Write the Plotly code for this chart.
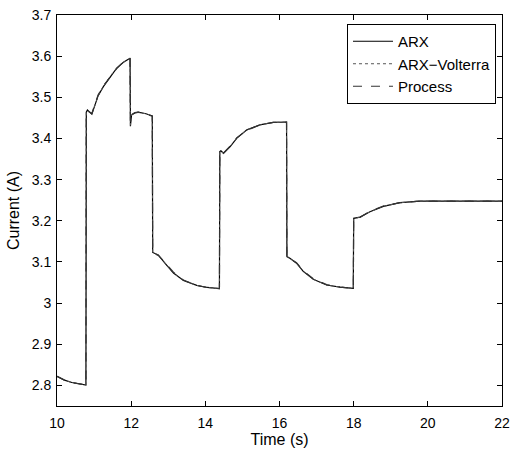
import plotly.graph_objects as go

time_s = [10.0, 10.2, 10.4, 10.6, 10.78,
          10.79, 10.82, 10.94, 11.02, 11.11, 11.25, 11.43, 11.61, 11.79, 11.97,
          11.98, 12.0, 12.01, 12.1, 12.19, 12.4, 12.57,
          12.58, 12.73, 12.91, 13.14, 13.41, 13.77, 14.05, 14.38,
          14.39, 14.42, 14.49, 14.67, 14.85, 15.12, 15.47, 15.83, 16.19,
          16.2, 16.28, 16.46, 16.64, 16.91, 17.27, 17.63, 17.99,
          18.0, 18.17, 18.44, 18.8, 19.25, 19.79, 20.5, 21.2, 22.0]

arx = [2.822, 2.813, 2.807, 2.803, 2.801,
       3.464, 3.469, 3.459, 3.481, 3.504, 3.526, 3.550, 3.571, 3.585, 3.595,
       3.430, 3.450, 3.457, 3.462, 3.464, 3.460, 3.455,
       3.123, 3.117, 3.097, 3.073, 3.055, 3.043, 3.038, 3.035,
       3.368, 3.370, 3.364, 3.380, 3.401, 3.421, 3.433, 3.439, 3.440,
       3.113, 3.109, 3.097, 3.077, 3.058, 3.044, 3.039, 3.036,
       3.206, 3.209, 3.222, 3.235, 3.244, 3.248, 3.248, 3.248, 3.248]

arx_volterra = [2.822, 2.813, 2.807, 2.803, 2.801,
                3.463, 3.468, 3.460, 3.480, 3.503, 3.527, 3.551, 3.571, 3.585, 3.594,
                3.432, 3.451, 3.457, 3.462, 3.463, 3.460, 3.455,
                3.122, 3.117, 3.098, 3.073, 3.055, 3.043, 3.038, 3.035,
                3.367, 3.369, 3.364, 3.381, 3.401, 3.421, 3.433, 3.439, 3.440,
                3.112, 3.109, 3.097, 3.078, 3.058, 3.044, 3.039, 3.036,
                3.205, 3.209, 3.222, 3.235, 3.244, 3.248, 3.248, 3.248, 3.248]

process = [2.822, 2.813, 2.807, 2.803, 2.801,
           3.462, 3.467, 3.461, 3.483, 3.506, 3.528, 3.549, 3.570, 3.586, 3.594,
           3.440, 3.452, 3.458, 3.463, 3.464, 3.459, 3.454,
           3.121, 3.116, 3.099, 3.075, 3.056, 3.043, 3.038, 3.035,
           3.366, 3.368, 3.365, 3.382, 3.402, 3.420, 3.433, 3.439, 3.440,
           3.111, 3.108, 3.098, 3.079, 3.059, 3.045, 3.039, 3.036,
           3.204, 3.208, 3.223, 3.236, 3.244, 3.248, 3.248, 3.248, 3.248]

y_ticks = [2.8, 2.9, 3.0, 3.1, 3.2, 3.3, 3.4, 3.5, 3.6, 3.7]
y_tick_labels = ["2.8", "2.9", "3", "3.1", "3.2", "3.3", "3.4", "3.5", "3.6", "3.7"]
x_ticks = [10, 12, 14, 16, 18, 20, 22]

FONT = "Liberation Sans, Arial, Helvetica, sans-serif"

fig = go.Figure()
fig.add_trace(go.Scatter(x=time_s, y=arx, mode="lines", name="ARX",
                         line=dict(color="black", width=1.2)))
fig.add_trace(go.Scatter(x=time_s, y=arx_volterra, mode="lines", name="ARX\u2212Volterra",
                         line=dict(color="#555555", width=1, dash="dot")))
fig.add_trace(go.Scatter(x=time_s, y=process, mode="lines", name="Process",
                         line=dict(color="#333333", width=1.2, dash="dash")))

axis_common = dict(showline=True, linecolor="black", linewidth=1, mirror="ticks",
                   ticks="inside", ticklen=5, tickcolor="black", showgrid=False,
                   zeroline=False, automargin=False,
                   tickfont=dict(family=FONT, size=14, color="black"))

fig.update_xaxes(range=[10, 22], tickvals=x_ticks, ticklabelstandoff=4,
                 title=dict(text="Time (s)", font=dict(family=FONT, size=16, color="black"), standoff=3),
                 **axis_common)
fig.update_yaxes(range=[2.75, 3.7], tickvals=y_ticks, ticktext=y_tick_labels, ticklabelstandoff=2,
                 title=dict(text="Current (A)", font=dict(family=FONT, size=16, color="black"), standoff=8),
                 **axis_common)

fig.update_layout(
    width=512, height=453,
    margin=dict(l=57, r=10, t=15, b=47),
    paper_bgcolor="white", plot_bgcolor="white",
    font=dict(family=FONT, size=14, color="black"),
    legend=dict(x=0.9865, y=0.977, xanchor="right", yanchor="top",
                bgcolor="white", bordercolor="black", borderwidth=1,
                font=dict(family=FONT, size=15, color="black"),
                tracegroupgap=0, itemwidth=40),
    showlegend=True,
)

fig.write_html("out.html",
               config={"displayModeBar": False},
               post_script="document.body.style.margin='0';document.body.style.overflow='hidden';")
